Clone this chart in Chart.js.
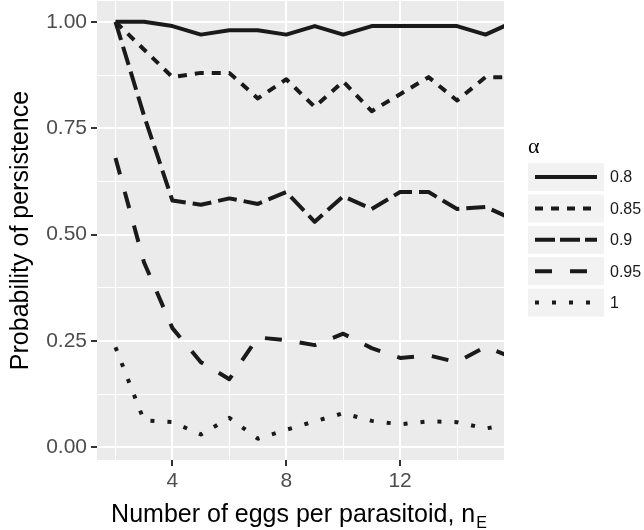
<!DOCTYPE html>
<html>
<head>
<meta charset="utf-8">
<script src="https://cdn.jsdelivr.net/npm/chart.js@4"></script>
<style>
  html, body { margin: 0; padding: 0; background: #fff; }
  #wrap { width: 644px; height: 530px; }
</style>
</head>
<body>
<div id="wrap"><canvas id="chart" width="644" height="530"></canvas></div>
<script>
// values (x = 16 lies past the clipped right edge)
const nEggs = [2, 3, 4, 5, 6, 7, 8, 9, 10, 11, 12, 13, 14, 15, 16];
const alpha080 = [1.00, 1.00, 0.99, 0.97, 0.98, 0.98, 0.97, 0.99, 0.97, 0.99, 0.99, 0.99, 0.99, 0.97, 1.00];
const alpha085 = [1.00, 0.935, 0.87, 0.88, 0.88, 0.82, 0.865, 0.80, 0.86, 0.79, 0.83, 0.87, 0.815, 0.87, 0.87];
const alpha090 = [1.00, 0.78, 0.58, 0.57, 0.585, 0.572, 0.60, 0.53, 0.59, 0.56, 0.60, 0.60, 0.56, 0.565, 0.535];
const alpha095 = [0.68, 0.435, 0.28, 0.20, 0.16, 0.258, 0.252, 0.24, 0.267, 0.233, 0.21, 0.216, 0.20, 0.236, 0.21];
const alpha100 = [0.235, 0.063, 0.059, 0.03, 0.069, 0.02, 0.041, 0.061, 0.080, 0.062, 0.054, 0.061, 0.059, 0.044, 0.056];

const legendLabels = ['0.8', '0.85', '0.9', '0.95', '1'];
const xTicks = [2, 4, 6, 8, 10, 12, 14];
const xLabelTicks = [4, 8, 12];
const yTicks = [0, 0.125, 0.25, 0.375, 0.5, 0.625, 0.75, 0.875, 1];
const yLabelTicks = [0, 0.25, 0.5, 0.75, 1];

const lineColor = '#1a1a1a';
const dashes = [[], [9, 8], [19, 7], [17, 18], [4, 13]];
const legendDashes = [[], [8, 8], [20, 5], [17, 18], [4, 13]];
const series = [alpha080, alpha085, alpha090, alpha095, alpha100];

function pts(values) {
  return nEggs.map((x, i) => ({ x: x, y: values[i] }));
}

const datasets = series.map((vals, i) => ({
  label: legendLabels[i],
  data: pts(vals),
  borderColor: lineColor,
  borderWidth: 4,
  borderDash: dashes[i],
  borderJoinStyle: 'round',
  pointRadius: 0,
  tension: 0,
  clip: 0
}));

const isMajorX = v => xLabelTicks.includes(v);
const isMajorY = v => yLabelTicks.some(t => Math.abs(t - v) < 1e-6);

const ggPanel = {
  id: 'ggPanel',
  beforeDraw(chart) {
    const { ctx, chartArea: a } = chart;
    ctx.save();
    ctx.fillStyle = '#EBEBEB';
    ctx.fillRect(a.left, a.top, a.right - a.left, a.bottom - a.top);
    ctx.restore();
  },
  afterDraw(chart) {
    const ctx = chart.ctx;
    ctx.save();

    // legend
    ctx.fillStyle = '#000';
    ctx.font = '22px "Liberation Serif"';
    ctx.textBaseline = 'middle';
    ctx.textAlign = 'left';
    ctx.fillText('α', 528, 147);

    const top0 = 163, step = 31.4, keyH = 28;
    legendLabels.forEach((lab, i) => {
      const top = top0 + i * step;
      const cy = top + keyH / 2;
      ctx.fillStyle = '#F2F2F2';
      ctx.fillRect(528, top, 76, keyH);
      ctx.strokeStyle = lineColor;
      ctx.lineWidth = 4;
      ctx.lineCap = 'butt';
      ctx.setLineDash(legendDashes[i]);
      ctx.beginPath();
      ctx.moveTo(535, cy);
      ctx.lineTo(597, cy);
      ctx.stroke();
      ctx.setLineDash([]);
      ctx.fillStyle = '#1a1a1a';
      ctx.font = '16px "Liberation Sans"';
      ctx.fillText(lab, 610, cy + 1);
    });

    // x axis title with subscript
    const main = 'Number of eggs per parasitoid, n';
    ctx.font = '25px "Liberation Sans"';
    const w1 = ctx.measureText(main).width;
    ctx.font = '16px "Liberation Sans"';
    const w2 = ctx.measureText('E').width;
    const x0 = 298.5 - (w1 + w2) / 2;
    ctx.fillStyle = '#000';
    ctx.textBaseline = 'alphabetic';
    ctx.font = '25px "Liberation Sans"';
    ctx.fillText(main, x0, 522);
    ctx.font = '16px "Liberation Sans"';
    ctx.fillText('E', x0 + w1 + 1, 528);
    ctx.restore();
  }
};

new Chart(document.getElementById('chart'), {
  type: 'line',
  data: { datasets: datasets },
  options: {
    responsive: false,
    animation: false,
    layout: { padding: { left: 6, right: 140, top: 1, bottom: 0 } },
    plugins: {
      legend: { display: false },
      tooltip: { enabled: false }
    },
    scales: {
      x: {
        type: 'linear',
        min: 1.35,
        max: 15.65,
        afterBuildTicks: s => { s.ticks = xTicks.map(v => ({ value: v })); },
        afterFit: s => { s.height = 70; s.paddingLeft = 0; s.paddingRight = 0; },
        border: { display: false },
        grid: {
          color: '#fff',
          lineWidth: c => (c.tick && isMajorX(c.tick.value)) ? 2 : 1,
          tickLength: 6,
          tickWidth: 2,
          tickColor: c => (c.tick && isMajorX(c.tick.value)) ? '#333' : 'rgba(0,0,0,0)'
        },
        ticks: {
          padding: 3,
          color: '#4D4D4D',
          font: { family: 'Liberation Sans', size: 21 },
          maxRotation: 0,
          autoSkip: false,
          callback: v => isMajorX(v) ? String(v) : ''
        }
      },
      y: {
        min: -0.03,
        max: 1.049,
        afterBuildTicks: s => { s.ticks = yTicks.map(v => ({ value: v })); },
        afterFit: s => { s.width = 91; s.paddingTop = 0; s.paddingBottom = 0; },
        border: { display: false },
        grid: {
          color: '#fff',
          lineWidth: c => (c.tick && isMajorY(c.tick.value)) ? 2 : 1,
          tickLength: 6,
          tickWidth: 2,
          tickColor: c => (c.tick && isMajorY(c.tick.value)) ? '#333' : 'rgba(0,0,0,0)'
        },
        ticks: {
          padding: 4,
          color: '#4D4D4D',
          font: { family: 'Liberation Sans', size: 21 },
          autoSkip: false,
          callback: v => isMajorY(v) ? v.toFixed(2) : ''
        },
        title: {
          display: true,
          text: 'Probability of persistence',
          color: '#000',
          font: { family: 'Liberation Sans', size: 25 },
          padding: 0
        }
      }
    }
  },
  plugins: [ggPanel]
});
</script>
</body>
</html>
